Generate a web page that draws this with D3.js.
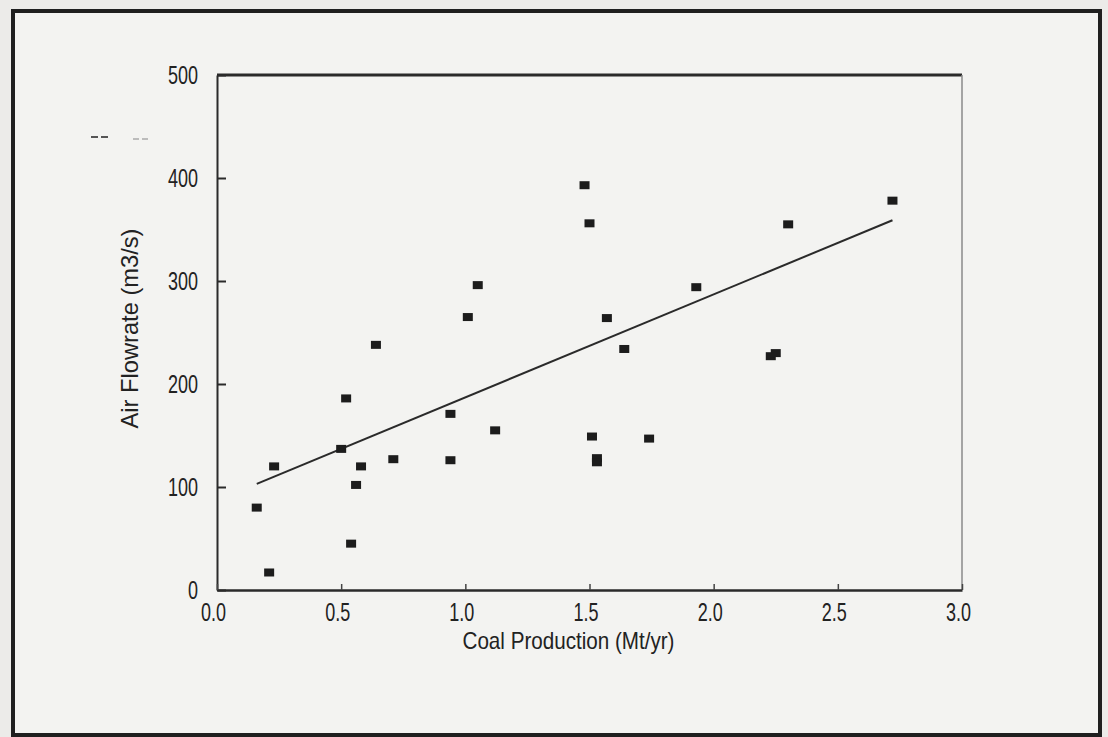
<!DOCTYPE html>
<html>
<head>
<meta charset="utf-8">
<script src="https://cdn.jsdelivr.net/npm/d3@7"></script>
<style>
  body { margin: 0; background: #ecebe9; }
  svg { display: block; }
  .tick text { font-family: "Liberation Sans Narrow", "Liberation Sans", Arial, sans-serif; font-size: 25px; fill: #222; }
  .title { font-family: "Liberation Sans Narrow", "Liberation Sans", Arial, sans-serif; font-size: 24px; fill: #222; }
</style>
</head>
<body>
<script>
// Coal production (Mt/yr) against air flowrate (m3/s)
const coalProduction = [0.16, 0.21, 0.23, 0.50, 0.52, 0.54, 0.56, 0.58, 0.64, 0.71,
                        0.94, 0.94, 1.01, 1.05, 1.12, 1.48, 1.50, 1.51, 1.53, 1.53,
                        1.57, 1.64, 1.74, 1.93, 2.23, 2.25, 2.30, 2.72];
const airFlowrate = [80, 17, 120, 137, 186, 45, 102, 120, 238, 127,
                     171, 126, 265, 296, 155, 393, 356, 149, 128, 124,
                     264, 234, 147, 294, 227, 230, 355, 378];

// least squares line as drawn on the chart
const fitIntercept = 87;
const fitSlope = 100;
const fitRange = [0.16, 2.72];

const xTicks = [0, 0.5, 1.0, 1.5, 2.0, 2.5, 3.0];
const yTicks = [0, 100, 200, 300, 400, 500];
const xTitle = "Coal Production (Mt/yr)";
const yTitle = "Air Flowrate (m3/s)";

const width = 1108;
const height = 737;
const margin = { left: 217, right: 146, top: 75, bottom: 147 };

const svg = d3.select("body").append("svg")
    .attr("width", width)
    .attr("height", height)

// outer box of the page
svg.append("rect")
    .attr("x", 13).attr("y", 11)
    .attr("width", 1087).attr("height", 724)
    .attr("fill", "#f3f3f1")
    .attr("stroke", "#1f1f1f")
    .attr("stroke-width", 4)

const x = d3.scaleLinear()
    .domain([0, 3])
    .range([margin.left, width - margin.right])

const y = d3.scaleLinear()
    .domain([0, 500])
    .range([height - margin.bottom, margin.top])

// plot frame: thick top, faint right side
svg.append("line")
    .attr("x1", x(0)).attr("x2", x(3))
    .attr("y1", y(500)).attr("y2", y(500))
    .attr("stroke", "#2a2a2a").attr("stroke-width", 3)
svg.append("line")
    .attr("x1", x(3)).attr("x2", x(3))
    .attr("y1", y(500)).attr("y2", y(0))
    .attr("stroke", "#8a8a8a").attr("stroke-width", 1.5)

// left over legend dashes
svg.append("line")
    .attr("x1", 91).attr("x2", 109).attr("y1", 137).attr("y2", 137)
    .attr("stroke", "#555").attr("stroke-width", 2).attr("stroke-dasharray", "7,3")
svg.append("line")
    .attr("x1", 133).attr("x2", 149).attr("y1", 139).attr("y2", 139)
    .attr("stroke", "#aaa").attr("stroke-width", 1.5).attr("stroke-dasharray", "6,3")

const yAxis = svg.append("g")
    .attr("transform", `translate(${x(0)},0)`)
    .call(d3.axisLeft(y).tickValues(yTicks).tickSizeInner(-9).tickSizeOuter(0).tickPadding(19))
yAxis.select(".domain").attr("stroke", "#2a2a2a").attr("stroke-width", 2)
yAxis.selectAll(".tick line").attr("stroke", "#2a2a2a").attr("stroke-width", 2)

const xAxis = svg.append("g")
    .attr("transform", `translate(0,${y(0)})`)
    .call(d3.axisBottom(x).tickValues(xTicks).tickFormat(d3.format(".1f")).tickSizeInner(-6).tickSizeOuter(0).tickPadding(13))
xAxis.select(".domain").attr("stroke", "#2a2a2a").attr("stroke-width", 2.5)
xAxis.selectAll(".tick line").attr("stroke", "#444").attr("stroke-width", 1.5)
xAxis.selectAll(".tick text").attr("dx", -4)

// squeeze the tick labels, the scan uses a narrow face
svg.selectAll(".tick text").each(function() {
    const len = this.getComputedTextLength()
    d3.select(this).attr("textLength", len * 0.72).attr("lengthAdjust", "spacingAndGlyphs")
})

// regression line
svg.append("line")
    .attr("x1", x(fitRange[0])).attr("y1", y(fitIntercept + fitSlope * fitRange[0]))
    .attr("x2", x(fitRange[1])).attr("y2", y(fitIntercept + fitSlope * fitRange[1]))
    .attr("stroke", "#2a2a2a").attr("stroke-width", 2)

// square markers
svg.append("g")
    .selectAll("rect")
    .data(d3.range(coalProduction.length))
    .join("rect")
    .attr("x", (i) => x(coalProduction[i]) - 5)
    .attr("y", (i) => y(airFlowrate[i]) - 4)
    .attr("width", 10)
    .attr("height", 8)
    .attr("fill", "#1c1c1c")

svg.append("text")
    .attr("class", "title")
    .attr("x", (x(0) + x(3)) / 2 - 21)
    .attr("y", 649)
    .attr("text-anchor", "middle")
    .attr("textLength", 212)
    .attr("lengthAdjust", "spacingAndGlyphs")
    .text(xTitle)

svg.append("text")
    .attr("class", "title")
    .attr("transform", `translate(138, ${(y(0) + y(500)) / 2 - 4}) rotate(-90)`)
    .attr("text-anchor", "middle")
    .attr("textLength", 200)
    .attr("lengthAdjust", "spacingAndGlyphs")
    .text(yTitle)
</script>
</body>
</html>
